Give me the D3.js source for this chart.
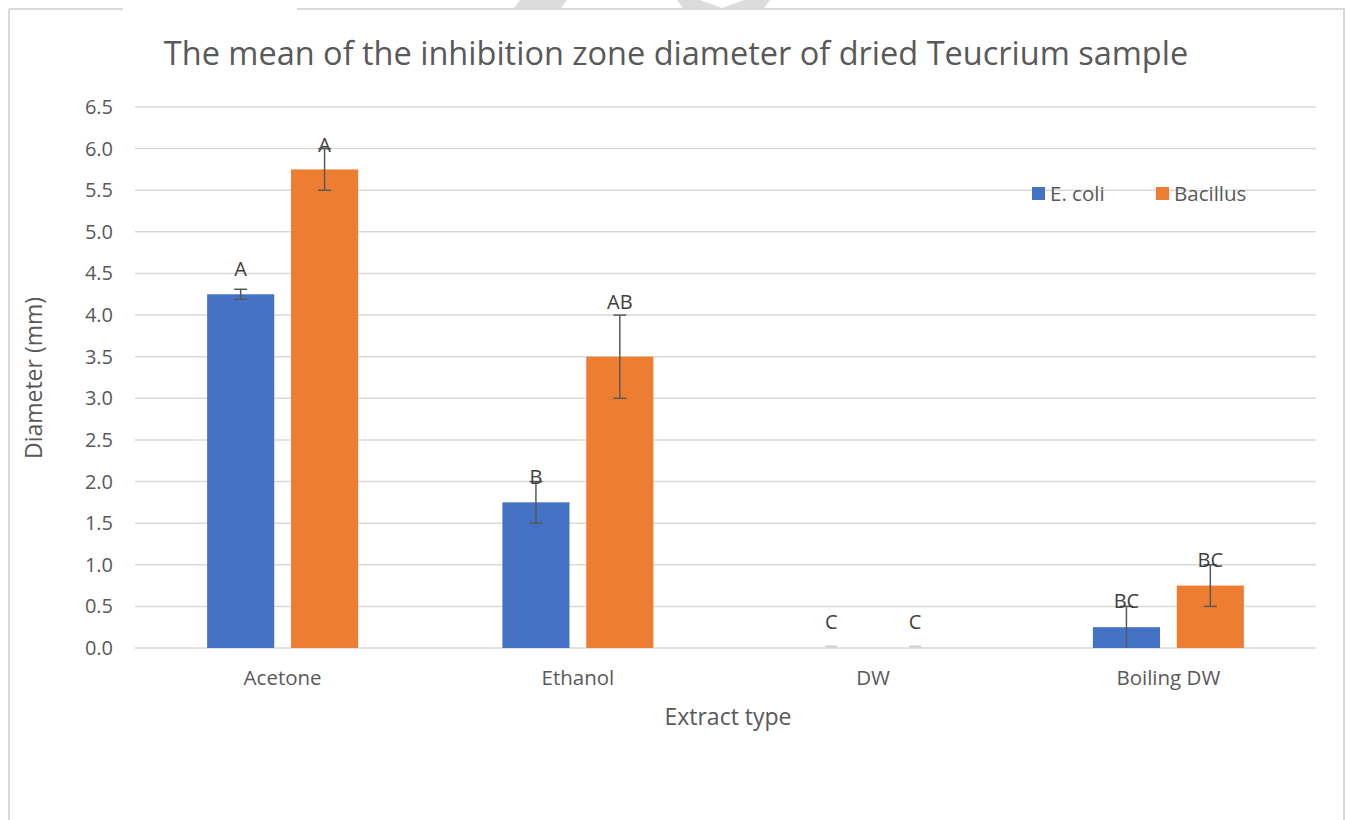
<!DOCTYPE html>
<html>
<head>
<meta charset="utf-8">
<script src="https://cdn.jsdelivr.net/npm/d3@7"></script>
<style>
  body { margin: 0; background: #fff; }
  text { font-family: "Open Sans", "Liberation Sans", sans-serif; fill: #595959; }
</style>
</head>
<body>
<div id="chart"></div>
<script>
// data
const categories = ["Acetone", "Ethanol", "DW", "Boiling DW"];
const series_names = ["E. coli", "Bacillus"];
const ecoli_values = [4.25, 1.75, 0, 0.25];
const bacillus_values = [5.75, 3.5, 0, 0.75];
const ecoli_errors = [0.06, 0.25, 0, 0.25];
const bacillus_errors = [0.25, 0.5, 0, 0.25];
const ecoli_letters = ["A", "B", "C", "BC"];
const bacillus_letters = ["A", "AB", "C", "BC"];
// height (in mm units) at which each letter label sits
const ecoli_letter_at = [4.55, 2.05, 0.31, 0.56];
const bacillus_letter_at = [6.04, 4.16, 0.31, 1.06];
const y_ticks = [0, 0.5, 1, 1.5, 2, 2.5, 3, 3.5, 4, 4.5, 5, 5.5, 6, 6.5];

const colors = ["#4472C4", "#ED7D31"];

let width = 1346;
let height = 820;

let svg = d3.select("#chart")
    .append("svg")
    .attr("width", width)
    .attr("height", height);

// chart frame (with gap at top like the source image)
let frame_color = "#d9d9d9";
svg.append("line").attr("x1", 9).attr("x2", 9).attr("y1", 9).attr("y2", height)
    .attr("stroke", frame_color).attr("stroke-width", 2);
svg.append("line").attr("x1", 1344).attr("x2", 1344).attr("y1", 9).attr("y2", height)
    .attr("stroke", frame_color).attr("stroke-width", 2);
svg.append("line").attr("x1", 9).attr("x2", 123).attr("y1", 9).attr("y2", 9)
    .attr("stroke", frame_color).attr("stroke-width", 2);
svg.append("line").attr("x1", 297).attr("x2", 1345).attr("y1", 9).attr("y2", 9)
    .attr("stroke", frame_color).attr("stroke-width", 2);

// watermark fragments at the top edge
svg.append("path").attr("d", "M520,0 L567,0 L561,8 L514,8 Z").attr("fill", "#dcdcdc");
svg.append("path").attr("d", "M677,0 L700,0 L722,8 L744,0 L770,0 L764,8 L683,8 Z").attr("fill", "#dcdcdc");

// title
svg.append("text")
    .attr("x", 676)
    .attr("y", 65)
    .attr("text-anchor", "middle")
    .attr("font-size", "32.5px")
    .text("The mean of the inhibition zone diameter of dried Teucrium sample");

let plot_left = 135;
let plot_right = 1316;

let xScale = d3.scaleBand()
    .domain(categories)
    .range([plot_left, plot_right]);

let yScale = d3.scaleLinear()
    .domain([0, 6.5])
    .range([648, 107]);

let inner = d3.scaleBand()
    .domain(series_names)
    .range([0, xScale.bandwidth()])
    .paddingInner(0.2)
    .paddingOuter(0.86);

// gridlines
svg.append("g")
    .selectAll("line")
    .data(y_ticks)
    .enter()
    .append("line")
    .attr("x1", plot_left)
    .attr("x2", plot_right)
    .attr("y1", function(d) { return yScale(d); })
    .attr("y2", function(d) { return yScale(d); })
    .attr("stroke", "#d9d9d9")
    .attr("stroke-width", 1.5);

// y tick labels
svg.append("g")
    .selectAll("text")
    .data(y_ticks)
    .enter()
    .append("text")
    .attr("x", 113)
    .attr("y", function(d) { return yScale(d); })
    .attr("dy", "0.35em")
    .attr("text-anchor", "end")
    .attr("font-size", "20px")
    .text(function(d) { return d.toFixed(1); });

// category labels
svg.append("g")
    .selectAll("text")
    .data(categories)
    .enter()
    .append("text")
    .attr("x", function(d) { return xScale(d) + xScale.bandwidth() / 2; })
    .attr("y", 678)
    .attr("dy", "0.35em")
    .attr("text-anchor", "middle")
    .attr("font-size", "20.5px")
    .text(function(d) { return d; });

// axis titles
svg.append("text")
    .attr("x", 728)
    .attr("y", 717)
    .attr("dy", "0.35em")
    .attr("text-anchor", "middle")
    .attr("font-size", "23px")
    .text("Extract type");

svg.append("text")
    .attr("transform", "translate(34,378) rotate(-90)")
    .attr("dy", "0.35em")
    .attr("text-anchor", "middle")
    .attr("font-size", "23px")
    .text("Diameter (mm)");

let series = [
    { name: series_names[0], values: ecoli_values, errors: ecoli_errors, letters: ecoli_letters, letter_at: ecoli_letter_at, color: colors[0] },
    { name: series_names[1], values: bacillus_values, errors: bacillus_errors, letters: bacillus_letters, letter_at: bacillus_letter_at, color: colors[1] }
];

for (let s of series) {
    let g = svg.append("g");
    let rows = categories.map(function(c, i) {
        return { cat: c, v: s.values[i], e: s.errors[i], label: s.letters[i], at: s.letter_at[i] };
    });
    let bx = function(d) { return xScale(d.cat) + inner(s.name); };
    let cx = function(d) { return bx(d) + inner.bandwidth() / 2; };

    g.selectAll(".bar")
        .data(rows)
        .enter()
        .append("rect")
        .attr("class", "bar")
        .attr("x", bx)
        .attr("y", function(d) { return yScale(d.v); })
        .attr("width", inner.bandwidth())
        .attr("height", function(d) { return yScale(0) - yScale(d.v); })
        .attr("fill", s.color);

    // zero-value placeholders (light gray dash on the baseline)
    g.selectAll(".zero")
        .data(rows.filter(function(d) { return d.v === 0; }))
        .enter()
        .append("line")
        .attr("x1", function(d) { return cx(d) - 6; })
        .attr("x2", function(d) { return cx(d) + 6; })
        .attr("y1", yScale(0) - 1.5)
        .attr("y2", yScale(0) - 1.5)
        .attr("stroke", "#d0d0d0")
        .attr("stroke-width", 2);

    let err_rows = rows.filter(function(d) { return d.e > 0; });

    g.selectAll(".err")
        .data(err_rows)
        .enter()
        .append("line")
        .attr("x1", cx)
        .attr("x2", cx)
        .attr("y1", function(d) { return yScale(d.v + d.e); })
        .attr("y2", function(d) { return yScale(Math.max(0, d.v - d.e)); })
        .attr("stroke", "#595959")
        .attr("stroke-width", 1.5);

    g.selectAll(".cap_top")
        .data(err_rows)
        .enter()
        .append("line")
        .attr("x1", function(d) { return cx(d) - 6.5; })
        .attr("x2", function(d) { return cx(d) + 6.5; })
        .attr("y1", function(d) { return yScale(d.v + d.e); })
        .attr("y2", function(d) { return yScale(d.v + d.e); })
        .attr("stroke", "#595959")
        .attr("stroke-width", 1.5);

    g.selectAll(".cap_bottom")
        .data(err_rows.filter(function(d) { return d.v - d.e > 0; }))
        .enter()
        .append("line")
        .attr("x1", function(d) { return cx(d) - 6.5; })
        .attr("x2", function(d) { return cx(d) + 6.5; })
        .attr("y1", function(d) { return yScale(d.v - d.e); })
        .attr("y2", function(d) { return yScale(d.v - d.e); })
        .attr("stroke", "#595959")
        .attr("stroke-width", 1.5);

    g.selectAll(".lbl")
        .data(rows)
        .enter()
        .append("text")
        .attr("x", cx)
        .attr("y", function(d) { return yScale(d.at); })
        .attr("dy", "0.35em")
        .attr("text-anchor", "middle")
        .attr("font-size", "20px")
        .style("fill", "#404040")
        .text(function(d) { return d.label; });
}

// legend
let legend_x = [1032, 1156];
let legend = svg.append("g");
series_names.forEach(function(name, i) {
    legend.append("rect")
        .attr("x", legend_x[i])
        .attr("y", 187)
        .attr("width", 13)
        .attr("height", 13)
        .attr("fill", colors[i]);
    legend.append("text")
        .attr("x", legend_x[i] + 18)
        .attr("y", 193.5)
        .attr("dy", "0.35em")
        .attr("font-size", "20.5px")
        .text(name);
});
</script>
</body>
</html>
